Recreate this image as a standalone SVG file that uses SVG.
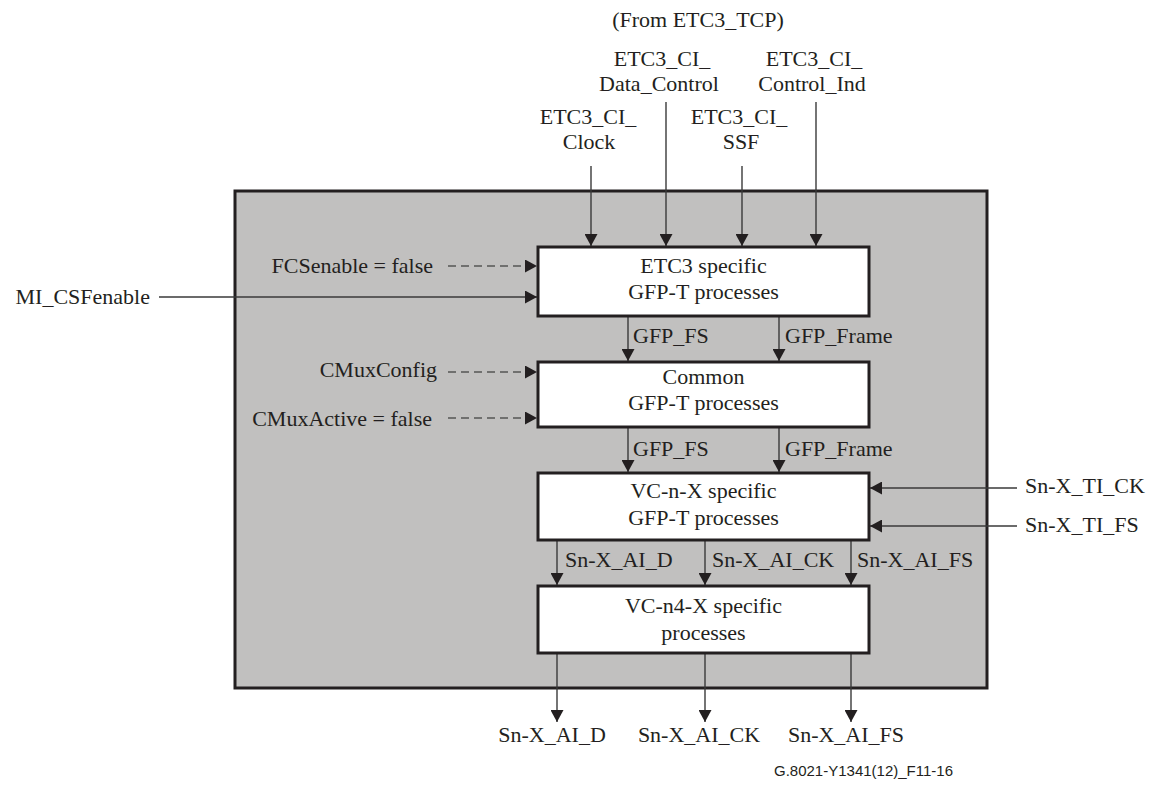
<svg xmlns="http://www.w3.org/2000/svg" width="1150" height="789" viewBox="0 0 1150 789">
<style>
  text { font-family: "Liberation Serif", "Times New Roman", serif; font-size: 22px; fill: #231f20; }
  .mid { text-anchor: middle; }
  .end { text-anchor: end; }
  .note { font-family: "Liberation Sans", Arial, sans-serif; font-size: 15px; }
  .box { fill: #ffffff; stroke: #231f20; stroke-width: 3; }
  .outer { fill: #c1c0bf; stroke: #231f20; stroke-width: 3; }
  .ln { stroke: #3a3a3a; stroke-width: 1.4; fill: none; marker-end: url(#ah); }
  .dash { stroke: #555555; stroke-width: 1.4; fill: none; stroke-dasharray: 8 5; marker-end: url(#ah); }
</style>
<defs>
  <marker id="ah" markerUnits="userSpaceOnUse" markerWidth="13" markerHeight="13" refX="12" refY="6.5" orient="auto">
    <path d="M0,0 L12,6.5 L0,13 z" fill="#231f20"/>
  </marker>
</defs>
<rect x="0" y="0" width="1150" height="789" fill="#ffffff"/>

<g id="outer">
  <rect class="outer" x="235" y="191" width="752" height="497"/>
</g>

<g id="connectors">
  <line class="ln" x1="591" y1="166" x2="591" y2="246"/>
  <line class="ln" x1="666" y1="102" x2="666" y2="246"/>
  <line class="ln" x1="742" y1="166" x2="742" y2="246"/>
  <line class="ln" x1="816" y1="102" x2="816" y2="246"/>
  <line class="dash" x1="448" y1="266" x2="537" y2="266"/>
  <line class="ln" x1="159" y1="297" x2="537" y2="297"/>
  <line class="dash" x1="448" y1="372" x2="537" y2="372"/>
  <line class="dash" x1="448" y1="418" x2="537" y2="418"/>
  <line class="ln" x1="628" y1="316" x2="628" y2="361"/>
  <line class="ln" x1="779" y1="316" x2="779" y2="361"/>
  <line class="ln" x1="628" y1="427" x2="628" y2="472"/>
  <line class="ln" x1="779" y1="427" x2="779" y2="472"/>
  <line class="ln" x1="1017" y1="488" x2="870" y2="488"/>
  <line class="ln" x1="1017" y1="526" x2="870" y2="526"/>
  <line class="ln" x1="557" y1="540" x2="557" y2="585"/>
  <line class="ln" x1="705" y1="540" x2="705" y2="585"/>
  <line class="ln" x1="851" y1="540" x2="851" y2="585"/>
  <line class="ln" x1="557" y1="653" x2="557" y2="722"/>
  <line class="ln" x1="705" y1="653" x2="705" y2="722"/>
  <line class="ln" x1="851" y1="653" x2="851" y2="722"/>
</g>

<g id="box1">
  <rect class="box" x="538" y="247" width="331" height="69"/>
  <text class="mid" x="703.5" y="273">ETC3 specific</text>
  <text class="mid" x="703.5" y="299">GFP-T processes</text>
</g>
<g id="box2">
  <rect class="box" x="538" y="362" width="331" height="65"/>
  <text class="mid" x="703.5" y="384">Common</text>
  <text class="mid" x="703.5" y="410">GFP-T processes</text>
</g>
<g id="box3">
  <rect class="box" x="538" y="473" width="331" height="67"/>
  <text class="mid" x="703.5" y="498">VC-n-X specific</text>
  <text class="mid" x="703.5" y="525">GFP-T processes</text>
</g>
<g id="box4">
  <rect class="box" x="538" y="586" width="331" height="67"/>
  <text class="mid" x="703.5" y="613">VC-n4-X specific</text>
  <text class="mid" x="703.5" y="640">processes</text>
</g>

<g id="labels">
  <text class="mid" x="698" y="27">(From ETC3_TCP)</text>
  <text class="mid" x="662" y="66">ETC3_CI_</text>
  <text class="mid" x="659" y="91">Data_Control</text>
  <text class="mid" x="814" y="66">ETC3_CI_</text>
  <text class="mid" x="812" y="91">Control_Ind</text>
  <text class="mid" x="588" y="124">ETC3_CI_</text>
  <text class="mid" x="589" y="149">Clock</text>
  <text class="mid" x="739" y="124">ETC3_CI_</text>
  <text class="mid" x="741" y="149">SSF</text>

  <text class="end" x="433" y="273">FCSenable = false</text>
  <text class="end" x="150" y="304">MI_CSFenable</text>
  <text class="end" x="437" y="377">CMuxConfig</text>
  <text class="end" x="432" y="426">CMuxActive = false</text>

  <text x="633" y="343">GFP_FS</text>
  <text x="785" y="343">GFP_Frame</text>
  <text x="633" y="456">GFP_FS</text>
  <text x="785" y="456">GFP_Frame</text>

  <text x="1025" y="493">Sn-X_TI_CK</text>
  <text x="1025" y="532">Sn-X_TI_FS</text>

  <text x="565" y="567">Sn-X_AI_D</text>
  <text x="712" y="567">Sn-X_AI_CK</text>
  <text x="857" y="567">Sn-X_AI_FS</text>

  <text class="mid" x="552" y="742">Sn-X_AI_D</text>
  <text class="mid" x="699" y="742">Sn-X_AI_CK</text>
  <text class="mid" x="846" y="742">Sn-X_AI_FS</text>

  <text class="note" x="774" y="776">G.8021-Y1341(12)_F11-16</text>
</g>
</svg>
